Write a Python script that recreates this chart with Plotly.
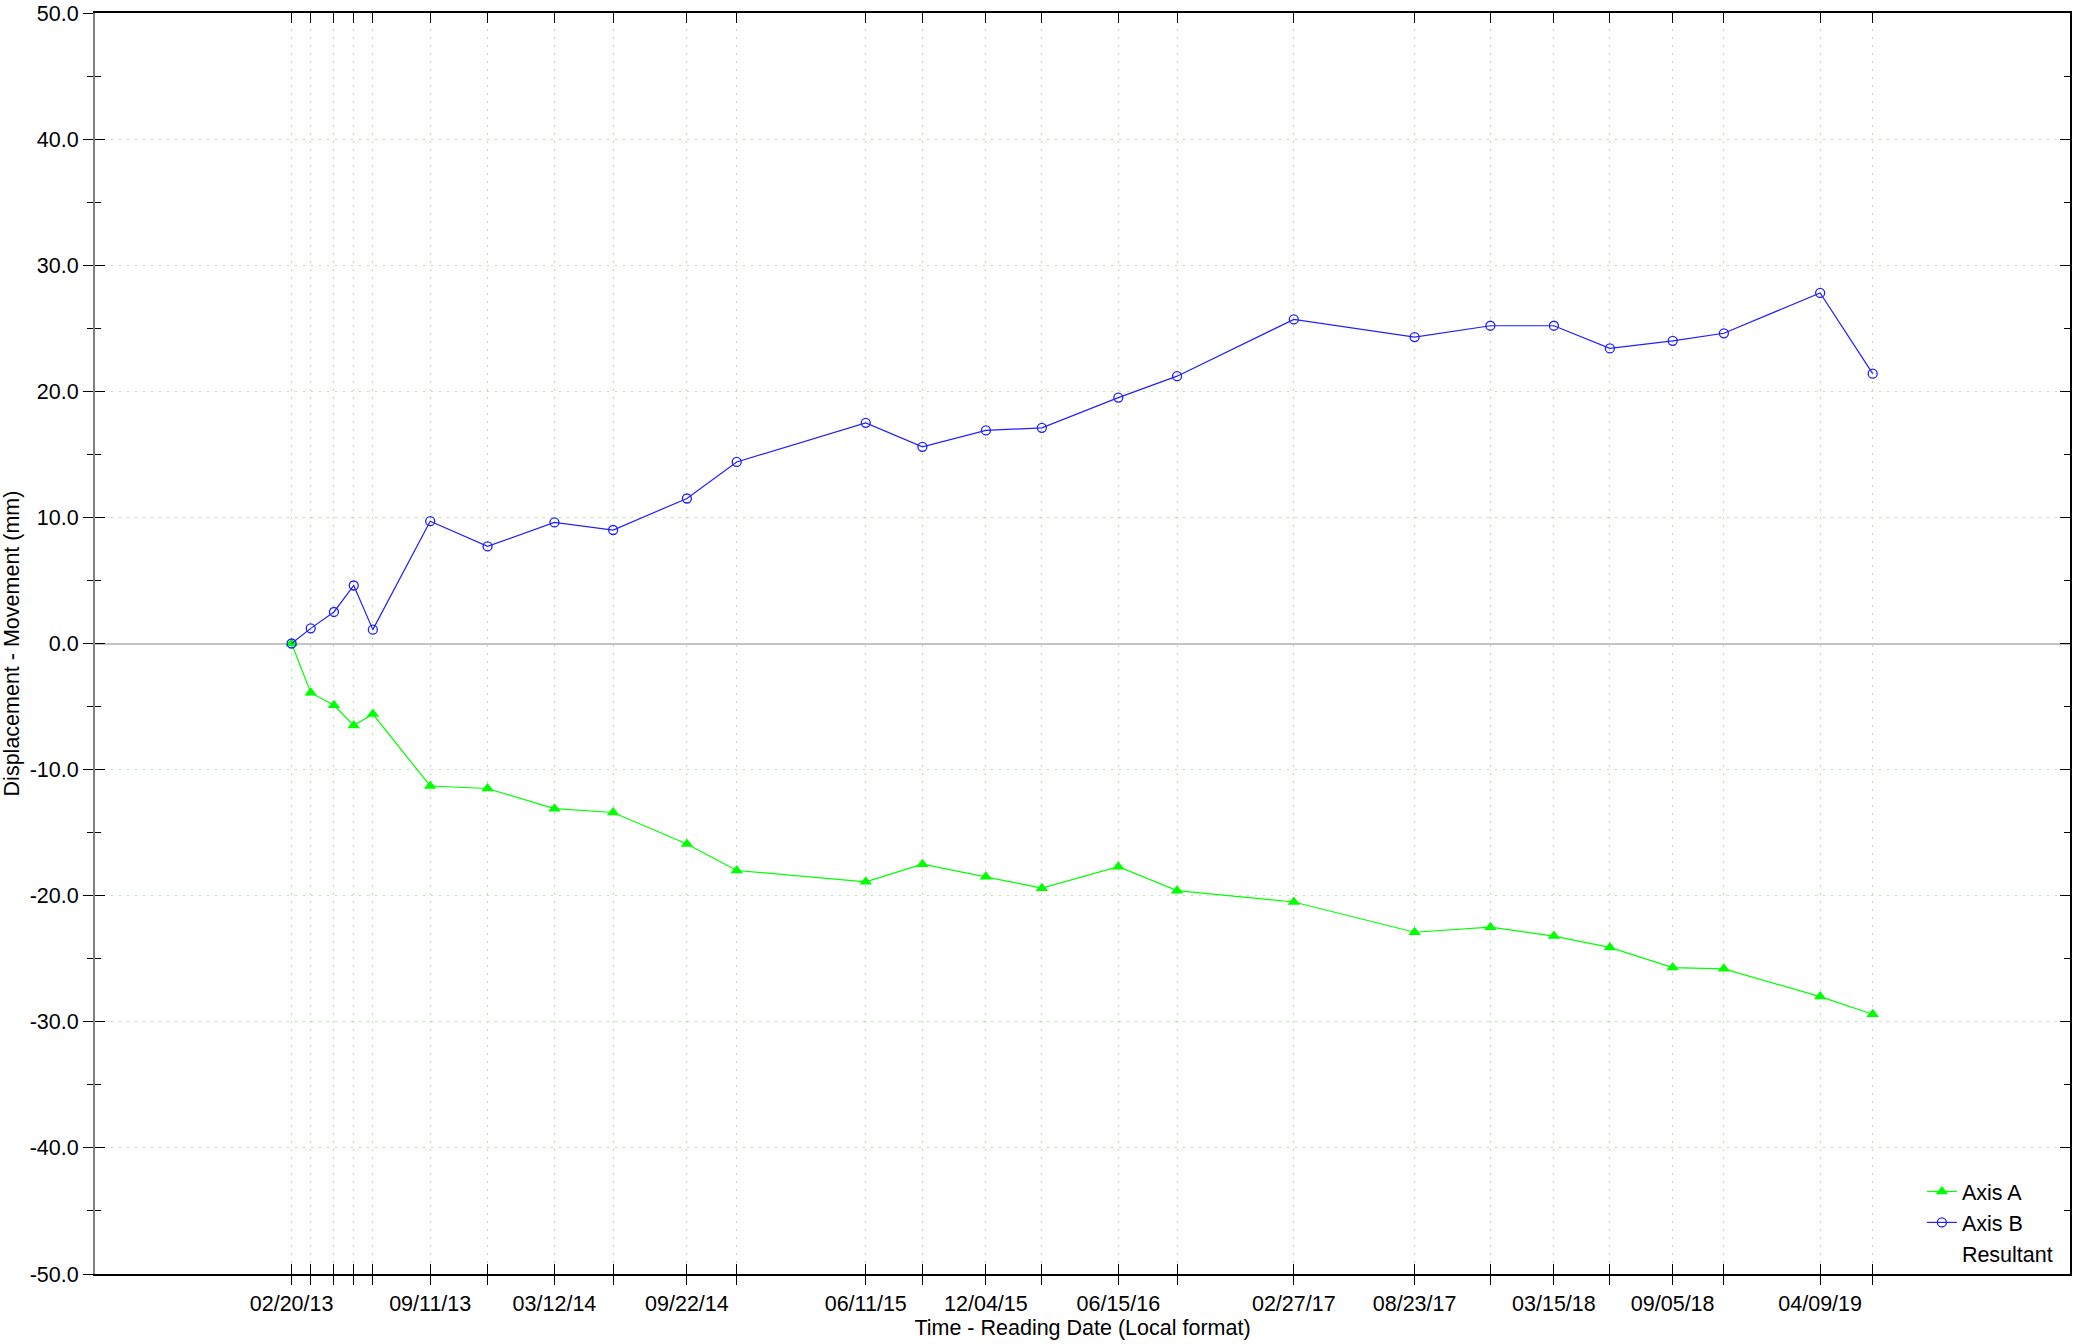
import pandas as pd
import plotly.graph_objects as go

# Reading dates of the instrument survey
reading_dates = [
    "2013-02-20", "2013-03-20", "2013-04-23", "2013-05-22", "2013-06-19",
    "2013-09-11", "2013-12-04", "2014-03-12", "2014-06-06", "2014-09-22",
    "2014-12-04", "2015-06-11", "2015-09-02", "2015-12-04", "2016-02-24",
    "2016-06-15", "2016-09-09", "2017-02-27", "2017-08-23", "2017-12-12",
    "2018-03-15", "2018-06-05", "2018-09-05", "2018-11-19", "2019-04-09",
    "2019-06-25",
]

# Displacement (mm) per axis
axis_a = [
    0.0, -3.9, -4.9, -6.5, -5.6, -11.3, -11.5, -13.1, -13.4, -15.9,
    -18.0, -18.9, -17.5, -18.5, -19.4, -17.7, -19.6, -20.5, -22.9, -22.5,
    -23.2, -24.1, -25.7, -25.8, -28.0, -29.4,
]
axis_b = [
    0.0, 1.2, 2.5, 4.6, 1.1, 9.7, 7.7, 9.6, 9.0, 11.5,
    14.4, 17.5, 15.6, 16.9, 17.1, 19.5, 21.2, 25.7, 24.3, 25.2,
    25.2, 23.4, 24.0, 24.6, 27.8, 21.4,
]

# Dates that carry a text label on the time axis
labelled_dates = [
    "2013-02-20", "2013-09-11", "2014-03-12", "2014-09-22", "2015-06-11",
    "2015-12-04", "2016-06-15", "2017-02-27", "2017-08-23", "2018-03-15",
    "2018-09-05", "2019-04-09",
]

y_ticks = [-50, -40, -30, -20, -10, 0, 10, 20, 30, 40, 50]

x_range = ["2012-05-08", "2020-04-09"]
y_range = [-50, 50]

date_text = [
    pd.Timestamp(d).strftime("%m/%d/%y") if d in labelled_dates else ""
    for d in reading_dates
]
y_text = [f"{v:.1f}" for v in y_ticks]

FONT = "Liberation Sans, Arial, sans-serif"
FS = 21.5
GRID = "#b4e0b4"

fig = go.Figure()

fig.add_trace(go.Scatter(
    x=reading_dates, y=axis_a, name="Axis A", mode="lines+markers",
    line=dict(color="#00ff00", width=1.2),
    marker=dict(symbol="triangle-up", size=11, color="#00ff00"),
))
fig.add_trace(go.Scatter(
    x=reading_dates, y=axis_b, name="Axis B", mode="lines+markers",
    line=dict(color="#2020ff", width=1.2),
    marker=dict(symbol="circle-open", size=9, color="#2020ff", line=dict(width=1.3)),
))
fig.add_trace(go.Scatter(
    x=[None], y=[None], name="Resultant", mode="lines",
    line=dict(color="rgba(0,0,0,0)", width=0),
))
# empty trace that carries the outer tick/label axes
fig.add_trace(go.Scatter(
    x=[None], y=[None], xaxis="x2", yaxis="y2", showlegend=False,
    hoverinfo="skip",
))

fig.update_layout(
    width=2099, height=1344,
    margin=dict(l=95, r=29, t=13, b=70, autoexpand=False),
    paper_bgcolor="white", plot_bgcolor="white",
    font=dict(family=FONT, size=FS, color="black"),
    showlegend=True,
    legend=dict(
        x=0.925, y=0.0, xanchor="left", yanchor="bottom",
        bgcolor="rgba(0,0,0,0)", font=dict(size=FS),
        tracegroupgap=0, itemwidth=30,
    ),
    xaxis=dict(
        type="date", range=x_range, automargin=False,
        tickmode="array", tickvals=reading_dates, ticktext=date_text,
        showticklabels=False,
        ticks="inside", ticklen=10, tickcolor="black", tickwidth=1,
        showline=True, linecolor="black", linewidth=2, mirror="ticks",
        showgrid=True, gridcolor=GRID, gridwidth=1, griddash="2px,6px",
        zeroline=False,
    ),
    yaxis=dict(
        range=y_range, automargin=False,
        tickmode="array", tickvals=y_ticks, ticktext=y_text,
        showticklabels=False,
        ticks="inside", ticklen=10, tickcolor="black", tickwidth=1,
        minor=dict(dtick=5, tick0=0, ticks="inside", ticklen=6,
                   tickcolor="black", showgrid=False),
        showline=True, linecolor="black", linewidth=2, mirror="ticks",
        showgrid=True, gridcolor=GRID, gridwidth=1, griddash="2px,6px",
        zeroline=True, zerolinecolor="#c4c4c4", zerolinewidth=2,
    ),
    xaxis2=dict(
        type="date", range=x_range, overlaying="x", side="bottom", anchor="y2",
        automargin=False,
        tickmode="array", tickvals=reading_dates, ticktext=date_text,
        ticks="outside", ticklen=10, tickcolor="black", tickwidth=1,
        tickfont=dict(size=FS),
        showline=False, showgrid=False, zeroline=False,
        title=dict(text="Time - Reading Date (Local format)",
                   font=dict(size=FS), standoff=2),
    ),
    yaxis2=dict(
        range=y_range, overlaying="y", side="left", anchor="x2",
        automargin=False,
        tickmode="array", tickvals=y_ticks, ticktext=y_text,
        ticks="outside", ticklen=10, tickcolor="black", tickwidth=1,
        minor=dict(dtick=5, tick0=0, ticks="outside", ticklen=6,
                   tickcolor="black", showgrid=False),
        tickfont=dict(size=FS),
        showline=True, linecolor="#808080", linewidth=2,
        showgrid=False, zeroline=False,
        title=dict(text="Displacement - Movement (mm)", font=dict(size=FS)),
    ),
)

fig.write_html("out.html")
